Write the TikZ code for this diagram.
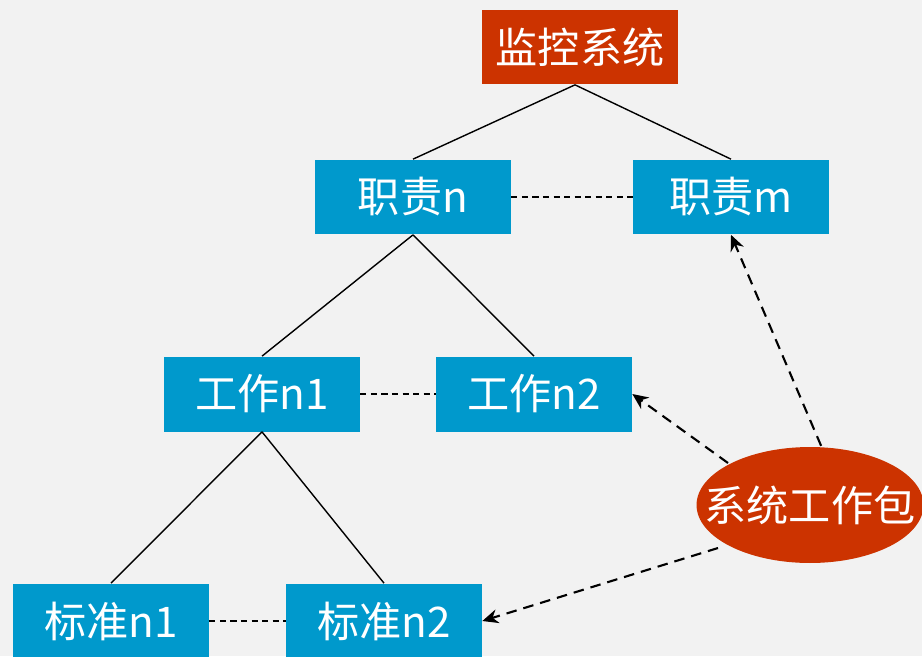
\documentclass[tikz,border=0pt]{standalone}
\usepackage{fontspec}
\setmainfont{Noto Sans CJK SC}
\usetikzlibrary{arrows.meta,shapes.geometric}
\definecolor{bgray}{HTML}{F2F2F2}
\definecolor{boxblue}{HTML}{0099CC}
\definecolor{boxred}{HTML}{CC3300}
\tikzset{
  box/.style={fill=boxblue,text=white,minimum width=3.92cm,minimum height=1.5cm,inner sep=0pt,font=\fontsize{24}{28}\selectfont},
  topbox/.style={box,fill=boxred},
  link/.style={-,black,line width=0.8pt},
  peer/.style={-,black,line width=0.8pt,dash pattern=on 3.5pt off 2.5pt},
  pointer/.style={-{Stealth[length=9pt,width=8pt]},black,line width=1.2pt,dash pattern=on 6pt off 4pt}
}
\begin{document}
\begin{tikzpicture}[x=0.02cm,y=-0.02cm]
            \useasboundingbox (0,0) rectangle (922,656);
            \fill[bgray] (0,0) rectangle (922,656);
            \clip (0,0) rectangle (922,656);

            % tree of boxes
            \node[topbox] (sys) at (580,47) {监控系统};
            \node[box] (zn) at (413,197) {职责n};
            \node[box] (zm) at (731,197) {职责m};
            \node[box] (gn1) at (262,394) {工作n1};
            \node[box] (gn2) at (534,394) {工作n2};
            \node[box] (bn1) at (111,621) {标准n1};
            \node[box] (bn2) at (384,621) {标准n2};

            \draw[link] ([xshift=-0.1cm]sys.south) -- (zn.north);
            \draw[link] ([xshift=-0.1cm]sys.south) -- (zm.north);
            \draw[link] (zn.south) -- (gn1.north);
            \draw[link] (zn.south) -- (gn2.north);
            \draw[link] (gn1.south) -- (bn1.north);
            \draw[link] (gn1.south) -- (bn2.north);

            \draw[peer] (zn.east) -- (zm.west);
            \draw[peer] (gn1.east) -- (gn2.west);
            \draw[peer] (bn1.east) -- (bn2.west);

            % work package
            \coordinate (p1) at (728,463);
            \coordinate (p2) at (828,462);
            \coordinate (p3) at (718,548);
            \draw[pointer] (p1) -- (gn2.east);
            \draw[pointer] (p2) -- (zm.south);
            \draw[pointer] (p3) -- (bn2.east);
            \node[ellipse,fill=boxred,text=white,minimum width=4.54cm,minimum height=2.32cm,inner sep=0pt,font=\fontsize{24}{28}\selectfont] (pkg) at (810,505) {\makebox[0pt]{系统工作包}};

        \end{tikzpicture}
\end{document}
